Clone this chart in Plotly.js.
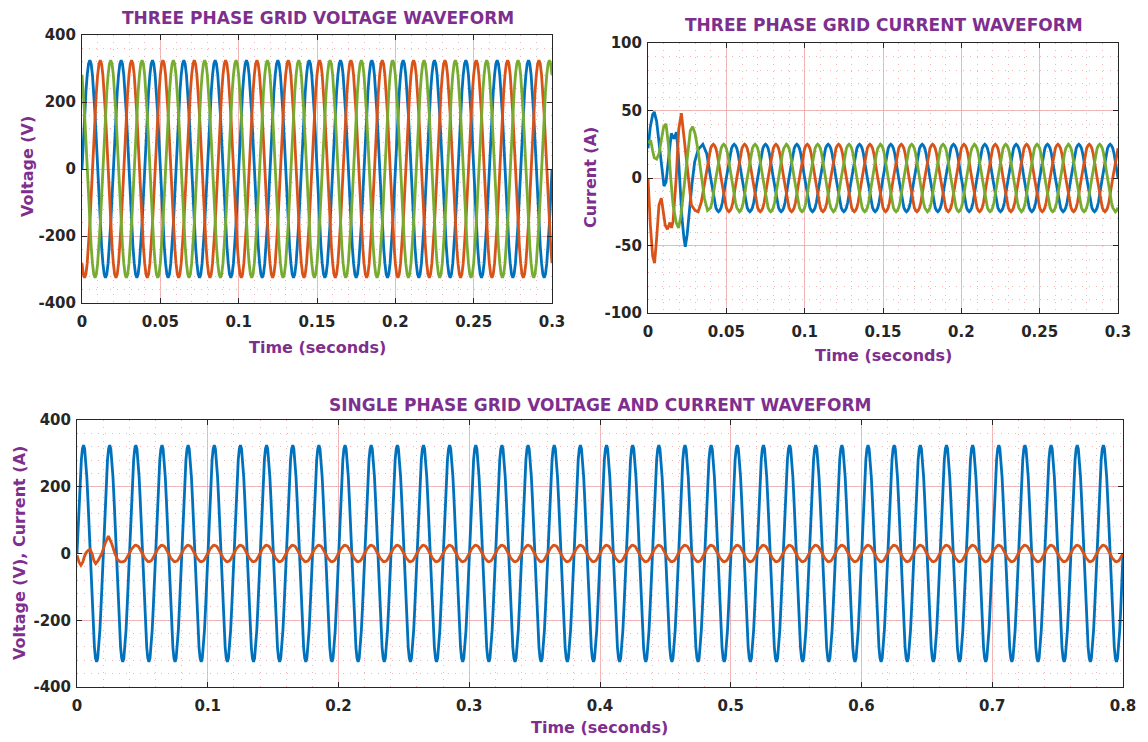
<!DOCTYPE html>
<html>
<head>
<meta charset="utf-8">
<script src="https://cdn.plot.ly/plotly-3.0.1.min.js"></script>
<style>html,body{margin:0;padding:0;background:#fff;}#chart{width:1148px;height:742px;}</style>
</head>
<body>
<div id="chart"></div>
<script>
// ---- Data ----
// One steady-state 50 Hz cycle, 24 samples (every 20/24 ms), starting at a cycle boundary
const phaseAVoltageCycle = [0, 84, 163, 230, 281, 314, 325, 314, 281, 230, 163, 84, 0, -84, -163, -230, -281, -314, -325, -314, -281, -230, -163, -84];
const phaseBVoltageCycle = [-281, -314, -325, -314, -281, -230, -163, -84, 0, 84, 163, 230, 281, 314, 325, 314, 281, 230, 163, 84, 0, -84, -163, -230];
const phaseCVoltageCycle = [281, 230, 163, 84, 0, -84, -163, -230, -281, -314, -325, -314, -281, -230, -163, -84, 0, 84, 163, 230, 281, 314, 325, 314];

// Steady-state current cycles (from t = 40 ms on), 24 samples per cycle
const blueCurrentCycle   = [0, -6, -13, -18, -22, -24, -25, -24, -22, -18, -13, -6, 0, 6, 13, 18, 22, 24, 25, 24, 22, 18, 13, 6];
const orangeCurrentCycle = [22, 24, 25, 24, 22, 18, 13, 6, 0, -6, -13, -18, -22, -24, -25, -24, -22, -18, -13, -6, 0, 6, 13, 18];
const greenCurrentCycle  = [-22, -18, -13, -6, 0, 6, 13, 18, 22, 24, 25, 24, 22, 18, 13, 6, 0, -6, -13, -18, -22, -24, -25, -24];
const singleCurrentCycle = [0, 6, 13, 18, 22, 24, 25, 24, 22, 18, 13, 6, 0, -6, -13, -18, -22, -24, -25, -24, -22, -18, -13, -6];

// Start-up transients (time in ms, current in A)
const blueTransT   = [0, 1.5, 3, 4, 5.5, 7, 8.5, 10.2, 11.5, 12.8, 14.9, 16.6, 18.1, 19.2, 20.5, 21.7, 23, 23.8, 25, 26.6, 28, 29.8, 32, 35, 37.5];
const blueTransI   = [22, 38, 47, 49, 42, 25, 12, -6, -3, 12, 33, 29, 34, 20, -5, -30, -45, -51, -42, -20, -5, 12, 21, 25, 18];
const orangeTransT = [0, 1.5, 3, 4.2, 5.5, 7, 8.5, 10, 11, 12.4, 14, 15, 16, 18, 19.6, 21.3, 23, 24.5, 26, 27.7, 30, 32, 34, 36, 38];
const orangeTransI = [0, -35, -58, -63, -45, -20, -15, -28, -35, -38, -33, -37, -32, 0, 36, 48, 30, 12, -5, -20, -24, -25, -18, -5, 10];
const greenTransT  = [0, 1.7, 3, 4, 5.5, 7, 8.5, 10, 11.5, 13, 14.5, 16, 18, 19.5, 21, 22.5, 24, 25.6, 27, 28.5, 30, 32, 34, 36, 38];
const greenTransI  = [26, 28, 20, 15, 14, 18, 28, 38, 40, 25, 0, -20, -33, -37, -28, -12, 8, 25, 35, 38, 33, 20, 3, -15, -24];
const singleTransT = [0, 1.5, 3, 4.5, 5.6, 7, 8.7, 10, 11.5, 13, 14.3, 16, 19, 21.5, 24, 26.5, 29, 31, 33, 35, 36.67, 38.33];
const singleTransI = [-5, -25, -35, -25, -10, 3, 10, 12, 0, -22, -30, -22, 0, 30, 52, 30, 0, -18, -25, -25, -22, -12];

const xTicksTop = [0, 0.05, 0.1, 0.15, 0.2, 0.25, 0.3];
const xTicksBottom = [0, 0.1, 0.2, 0.3, 0.4, 0.5, 0.6, 0.7, 0.8];
const yTicksVolt = [-400, -200, 0, 200, 400];
const yTicksCurr = [-100, -50, 0, 50, 100];

const titles = {
  tl: 'THREE PHASE GRID VOLTAGE WAVEFORM',
  tr: 'THREE PHASE GRID CURRENT WAVEFORM',
  bt: 'SINGLE PHASE GRID VOLTAGE AND CURRENT WAVEFORM',
  time: 'Time (seconds)',
  volt: 'Voltage (V)',
  curr: 'Current (A)',
  vc: 'Voltage (V), Current (A)'
};

// ---- Helpers ----
const STEP = 0.02 / 24;
function tile(cycle, tStart, tEnd) {
  const x = [], y = [];
  const n = Math.round((tEnd - tStart) / STEP);
  for (let k = 0; k <= n; k++) { x.push(tStart + k * STEP); y.push(cycle[k % cycle.length]); }
  return { x, y };
}
function withTransient(tMs, vals, cycle, tEnd) {
  const s = tile(cycle, 0.04, tEnd);
  return { x: tMs.map(t => t / 1000).concat(s.x), y: vals.concat(s.y) };
}

const BLUE = '#0072BD', ORANGE = '#D95319', GREEN = '#77AC30', PURPLE = '#7E2F8E';
const LW = 2.8;

const va = tile(phaseAVoltageCycle, 0, 0.3);
const vb = tile(phaseBVoltageCycle, 0, 0.3);
const vc = tile(phaseCVoltageCycle, 0, 0.3);
const ib = withTransient(blueTransT, blueTransI, blueCurrentCycle, 0.3);
const io = withTransient(orangeTransT, orangeTransI, orangeCurrentCycle, 0.3);
const ig = withTransient(greenTransT, greenTransI, greenCurrentCycle, 0.3);
const vaLong = tile(phaseAVoltageCycle, 0, 0.8);
const iaLong = withTransient(singleTransT, singleTransI, singleCurrentCycle, 0.8);

function tr(d, color, xa, ya) {
  return { x: d.x, y: d.y, type: 'scatter', mode: 'lines', xaxis: xa, yaxis: ya,
    line: { color: color, width: LW }, hoverinfo: 'skip' };
}
const data = [
  tr(va, BLUE, 'x', 'y'), tr(vb, ORANGE, 'x', 'y'), tr(vc, GREEN, 'x', 'y'),
  tr(ib, BLUE, 'x2', 'y2'), tr(io, ORANGE, 'x2', 'y2'), tr(ig, GREEN, 'x2', 'y2'),
  tr(vaLong, BLUE, 'x3', 'y3'), tr(iaLong, ORANGE, 'x3', 'y3')
];

const W = 1148, H = 742;
const tickFont = { family: 'DejaVu Sans, Verdana, sans-serif', size: 15, color: '#262626', weight: 'bold' };
const GRID = 'rgba(235,160,160,0.75)';
const MINOR = 'rgba(235,150,150,0.7)';
function ax(domain, range, tickvals, minorDtick, anchor, isX) {
  return {
    domain: domain, range: range, anchor: anchor, tickmode: 'array', tickvals: tickvals,
    ticktext: tickvals.map(v => String(v)),
    showgrid: true, gridcolor: GRID, gridwidth: 1, zeroline: false,
    showline: true, linecolor: '#262626', linewidth: 1, mirror: 'ticks',
    ticks: 'inside', ticklen: 5, tickcolor: '#262626', tickwidth: 1,
    tickfont: tickFont, fixedrange: true, ticklabelstandoff: isX ? 5 : 2,
    minor: { dtick: minorDtick, showgrid: true, gridcolor: MINOR, griddash: '1px,6px', gridwidth: 1, ticks: '' }
  };
}
const px = v => v / W, py = v => 1 - v / H;

const layout = {
  width: W, height: H, margin: { l: 0, r: 0, t: 0, b: 0 },
  paper_bgcolor: '#fff', plot_bgcolor: '#fff', showlegend: false,
  xaxis: ax([px(82), px(552)], [0, 0.3], xTicksTop, 0.01, 'y', true),
  yaxis: ax([py(303), py(35)], [-400, 400], yTicksVolt, 40, 'x', false),
  xaxis2: ax([px(648), px(1118)], [0, 0.3], xTicksTop, 0.01, 'y2', true),
  yaxis2: ax([py(313), py(43)], [-100, 100], yTicksCurr, 10, 'x2', false),
  xaxis3: ax([px(77), px(1123)], [0, 0.8], xTicksBottom, 0.02, 'y3', true),
  yaxis3: ax([py(687), py(420)], [-400, 400], yTicksVolt, 40, 'x3', false),
  annotations: []
};
const tFont = { family: 'DejaVu Sans, Verdana, sans-serif', size: 17, color: PURPLE, weight: 'bold' };
const aFont = { family: 'DejaVu Sans, Verdana, sans-serif', size: 16, color: PURPLE, weight: 'bold' };
function ann(text, x, y, font, rot) {
  layout.annotations.push({ text: text, xref: 'paper', yref: 'paper', x: px(x), y: py(y),
    xanchor: 'center', yanchor: 'middle', showarrow: false, font: font, textangle: rot || 0 });
}
ann(titles.tl, 318, 18, tFont);
ann(titles.tr, 884, 25, tFont);
ann(titles.bt, 600, 405, tFont);
ann(titles.time, 317, 347, aFont);
ann(titles.time, 883, 355, aFont);
ann(titles.time, 599, 727, aFont);
ann(titles.volt, 27, 167, aFont, -90);
ann(titles.curr, 591, 178, aFont, -90);
ann(titles.vc, 19, 553, aFont, -90);

Plotly.newPlot('chart', data, layout, { staticPlot: true, displayModeBar: false });
</script>
</body>
</html>
